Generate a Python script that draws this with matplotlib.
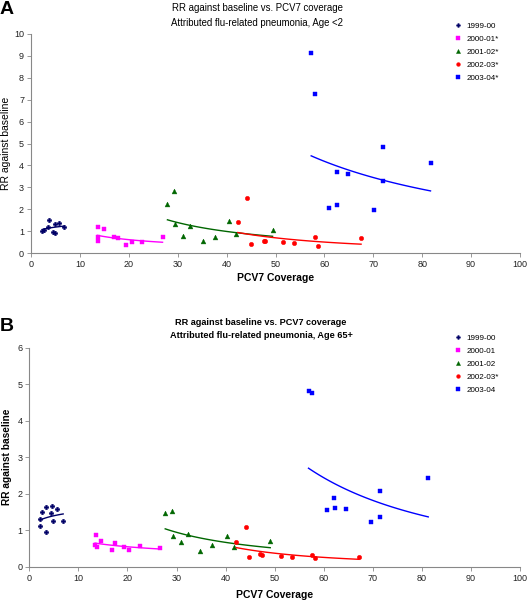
import numpy as np
import matplotlib
matplotlib.use("Agg")
import matplotlib.pyplot as plt

plt.rcParams['font.family'] = ['Liberation Sans', 'DejaVu Sans']

seasons = ["1999-00", "2000-01", "2001-02", "2002-03", "2003-04"]
labels_a = ["1999-00", "2000-01*", "2001-02*", "2002-03*", "2003-04*"]
labels_b = ["1999-00", "2000-01", "2001-02", "2002-03*", "2003-04"]

# Panel A: Age <2
a_x_9900 = [2.3, 2.7, 3.5, 3.7, 4.4, 4.9, 5.0, 5.8, 6.8]
a_y_9900 = [1.03, 1.07, 1.20, 1.50, 0.98, 0.92, 1.35, 1.37, 1.20]
a_x_0001 = [13.7, 14.9, 13.6, 13.8, 17.0, 17.7, 19.5, 20.6, 22.8, 26.9]
a_y_0001 = [1.18, 1.09, 0.76, 0.57, 0.76, 0.68, 0.38, 0.53, 0.50, 0.73]
a_x_0102 = [27.9, 29.2, 29.4, 32.5, 31.1, 35.1, 37.6, 40.4, 41.9, 49.4]
a_y_0102 = [2.23, 2.84, 1.33, 1.24, 0.80, 0.56, 0.73, 1.47, 0.89, 1.08]
a_x_0203 = [44.2, 42.3, 44.9, 47.6, 47.9, 51.5, 53.8, 58.1, 58.6, 67.5]
a_y_0203 = [2.52, 1.43, 0.44, 0.56, 0.56, 0.50, 0.47, 0.74, 0.35, 0.68]
a_x_0304 = [57.3, 58.0, 71.9, 81.7, 62.6, 64.8, 71.9, 60.9, 62.6, 70.1]
a_y_0304 = [9.11, 7.24, 4.84, 4.11, 3.72, 3.63, 3.29, 2.06, 2.20, 1.97]

# Panel B: Age 65+
b_x_9900 = [2.2, 2.2, 2.5, 3.5, 3.5, 4.6, 4.5, 4.8, 5.6, 6.9]
b_y_9900 = [1.30, 1.11, 1.50, 1.63, 0.96, 1.66, 1.47, 1.26, 1.59, 1.25]
b_x_0001 = [13.5, 14.7, 13.4, 13.7, 16.8, 17.5, 19.4, 20.3, 22.5, 26.6]
b_y_0001 = [0.87, 0.70, 0.59, 0.54, 0.47, 0.65, 0.53, 0.46, 0.57, 0.52]
b_x_0102 = [27.7, 29.1, 29.2, 32.4, 31.0, 34.8, 37.2, 40.2, 41.7, 49.1]
b_y_0102 = [1.46, 1.52, 0.83, 0.90, 0.69, 0.43, 0.60, 0.85, 0.54, 0.71]
b_x_0203 = [44.1, 42.2, 44.8, 47.1, 47.4, 51.2, 53.5, 57.7, 58.3, 67.2]
b_y_0203 = [1.10, 0.68, 0.27, 0.36, 0.31, 0.28, 0.27, 0.31, 0.24, 0.27]
b_x_0304 = [56.9, 57.6, 81.3, 71.5, 62.1, 60.7, 62.3, 64.6, 69.7, 71.5]
b_y_0304 = [4.82, 4.76, 2.42, 2.08, 1.87, 1.54, 1.62, 1.57, 1.23, 1.36]

title_line1 = "RR against baseline vs. PCV7 coverage"
title_a_line2 = "Attributed flu-related pneumonia, Age <2"
title_b_line2 = "Attributed flu-related pneumonia, Age 65+"

colors = ["#000066", "#FF00FF", "#006600", "#FF0000", "#0000FF"]
markers = ["P", "s", "^", "o", "s"]
msizes = [3.3, 3.5, 3.5, 3.2, 3.5]

W, H = 528, 605
fig = plt.figure(figsize=(W / 100, H / 100), dpi=100)


def frac_axes(l, r, t, b):
    return fig.add_axes([l / W, 1 - b / H, (r - l) / W, (b - t) / H])


def ftext(x, y, s, **kw):
    return fig.text(x / W, 1 - y / H, s, **kw)


def power_fit(x, y):
    x = np.asarray(x, float)
    y = np.asarray(y, float)
    b, lna = np.polyfit(np.log(x), np.log(y), 1)
    xs = np.linspace(x.min(), x.max(), 60)
    return xs, np.exp(lna) * xs ** b


def panel(ax, xs, ys, labels, ymax, yticks, leg_anchor):
    handles = []
    for i in range(5):
        h, = ax.plot(xs[i], ys[i], linestyle="none", marker=markers[i],
                     color=colors[i], markersize=msizes[i], markeredgewidth=0.3,
                     label=labels[i])
        handles.append(h)
        fx, fy = power_fit(xs[i], ys[i])
        ax.plot(fx, fy, color=colors[i], lw=1.0)
    ax.set_xlim(0, 100)
    ax.set_ylim(0, ymax)
    ax.set_xticks(range(0, 101, 10))
    ax.set_yticks(yticks)
    for s in ["top", "right"]:
        ax.spines[s].set_visible(False)
    for s in ["left", "bottom"]:
        ax.spines[s].set_color("#888888")
        ax.spines[s].set_linewidth(0.8)
    ax.tick_params(axis="both", direction="out", length=3, width=0.6,
                   color="#888888", labelsize=6.5, labelcolor="#222222", pad=2)
    ax.legend(handles=handles, loc="upper left", bbox_to_anchor=leg_anchor,
              bbox_transform=fig.transFigure, frameon=False, fontsize=5.8,
              handlelength=1.0, handletextpad=0.6, labelspacing=0.66,
              borderaxespad=0, borderpad=0, markerscale=0.85)
    return ax


# Panel A
axA = frac_axes(31, 520, 33.7, 253.3)
panel(axA,
      [a_x_9900, a_x_0001, a_x_0102, a_x_0203, a_x_0304],
      [a_y_9900, a_y_0001, a_y_0102, a_y_0203, a_y_0304],
      labels_a, 10, range(0, 11), (454 / W, 1 - 22.5 / H))
ftext(0, 1, "A", fontsize=14, fontweight="bold", va="top", ha="left")
ftext(257, 8, title_line1, fontsize=6.9, ha="center", va="center")
ftext(257, 22.5, title_a_line2, fontsize=6.9, ha="center", va="center")
ftext(6, 143.5, "RR against baseline", fontsize=7.5, rotation=90, ha="center", va="center")
ftext(275.5, 278, "PCV7 Coverage", fontsize=7.5, fontweight="bold", ha="center", va="center")

# Panel B
axB = frac_axes(29.3, 520, 347.7, 566.7)
panel(axB,
      [b_x_9900, b_x_0001, b_x_0102, b_x_0203, b_x_0304],
      [b_y_9900, b_y_0001, b_y_0102, b_y_0203, b_y_0304],
      labels_b, 6, range(0, 7), (454 / W, 1 - 334.5 / H))
ftext(0, 318, "B", fontsize=14, fontweight="bold", va="top", ha="left")
ftext(261, 322.7, title_line1, fontsize=6.6, fontweight="bold", ha="center", va="center")
ftext(261, 335.7, title_b_line2, fontsize=6.6, fontweight="bold", ha="center", va="center")
ftext(7, 457, "RR against baseline", fontsize=7.3, fontweight="bold", rotation=90, ha="center", va="center")
ftext(274.5, 595, "PCV7 Coverage", fontsize=7.5, fontweight="bold", ha="center", va="center")

fig.savefig("out.png", dpi=100)
